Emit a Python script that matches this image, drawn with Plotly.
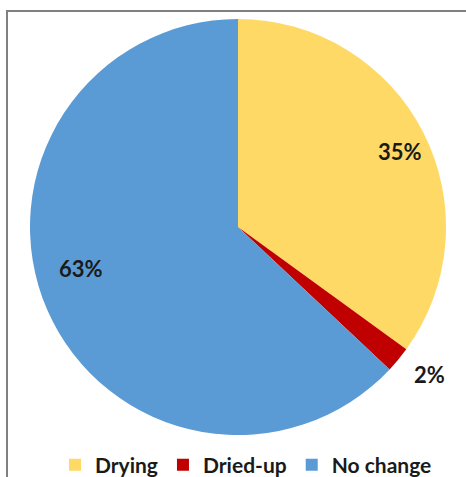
import math
import plotly.graph_objects as go

categories = ["Drying", "Dried-up", "No change"]
values = [35, 2, 63]
colors = ["#FFD966", "#C00000", "#5B9BD5"]

# label placement styles (radius fraction, angular shift in degrees)
label_r = [0.86, 1.16, 0.78]
label_shift = [2, -2, 8.7]

W, H = 466, 477
cx, cy, R = 238, 227, 208

fig = go.Figure()
fig.add_trace(go.Pie(
    labels=categories, values=values, sort=False, direction="clockwise", rotation=0,
    marker=dict(colors=colors, line=dict(width=0)),
    textinfo="none", hoverinfo="label+percent",
    domain=dict(x=[(cx - R) / W, (cx + R) / W], y=[1 - (cy + R) / H, 1 - (cy - R) / H]),
))

total = sum(values)
cum = 0
for v, rf, sh in zip(values, label_r, label_shift):
    mid = (cum + v / 2) / total * 360 + sh
    cum += v
    px = cx + rf * R * math.sin(math.radians(mid))
    py = cy - rf * R * math.cos(math.radians(mid))
    fig.add_annotation(x=px / W, y=1 - py / H, xref="paper", yref="paper",
                       xanchor="center", yanchor="middle",
                       text=f"<b>{round(v / total * 100)}%</b>", showarrow=False,
                       font=dict(family="Lato", size=22, color="#1a1a1a"))

fig.add_shape(type="path", xref="paper", yref="paper",
              path=f"M {7/W},0 L {7/W},{1-11/H} L 1,{1-11/H}",
              line=dict(color="#808080", width=2))

fig.update_layout(
    width=W, height=H, margin=dict(l=0, r=0, t=0, b=0, autoexpand=False),
    paper_bgcolor="white", plot_bgcolor="white",
    showlegend=True,
    legend=dict(orientation="h", x=55 / W, xanchor="left", y=1 - 465 / H, yanchor="middle",
                font=dict(family="Lato", size=21, color="#1a1a1a", weight="bold"),
                itemsizing="constant", traceorder="normal"),
    font=dict(family="Lato"),
)
fig.write_html("out.html", config={"displayModeBar": False},
               post_script="document.body.style.margin='0px';")
